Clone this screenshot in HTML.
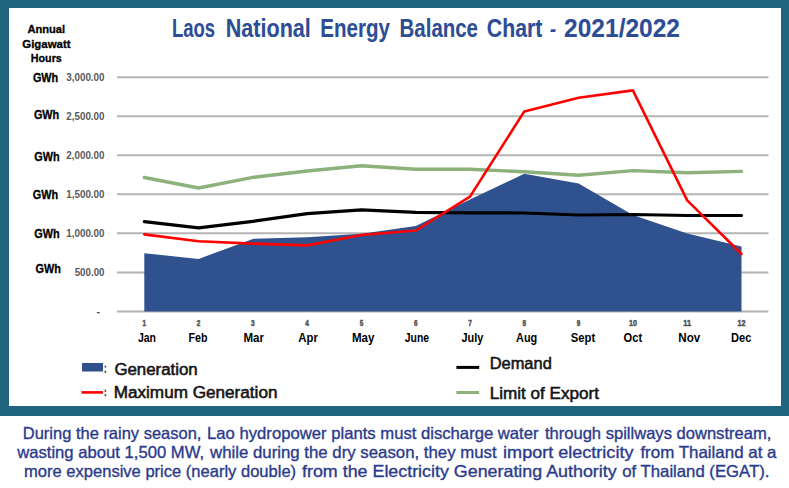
<!DOCTYPE html>
<html><head><meta charset="utf-8">
<style>
html,body{margin:0;padding:0;background:#fff;}
body{width:789px;height:488px;position:relative;overflow:hidden;font-family:"Liberation Sans",sans-serif;}
svg{position:absolute;left:0;top:0;font-family:"Liberation Sans",sans-serif;}
</style></head><body>
<svg width="789" height="488" viewBox="0 0 789 488">
<rect x="0" y="0" width="789" height="416" fill="#1e647c"/>
<rect x="9" y="8" width="772" height="398" fill="#fff"/>
<line x1="117" y1="77.2" x2="768.5" y2="77.2" stroke="#b4b4b4" stroke-width="2"/>
<line x1="117" y1="116.2" x2="768.5" y2="116.2" stroke="#b4b4b4" stroke-width="2"/>
<line x1="117" y1="155.3" x2="768.5" y2="155.3" stroke="#b4b4b4" stroke-width="2"/>
<line x1="117" y1="194.3" x2="768.5" y2="194.3" stroke="#b4b4b4" stroke-width="2"/>
<line x1="117" y1="233.3" x2="768.5" y2="233.3" stroke="#b4b4b4" stroke-width="2"/>
<line x1="117" y1="272.4" x2="768.5" y2="272.4" stroke="#b4b4b4" stroke-width="2"/>
<line x1="117" y1="311.4" x2="768.5" y2="311.4" stroke="#b4b4b4" stroke-width="2"/>
<polygon points="144.3,311.4 144.3,253.2 198.6,258.9 252.9,238.9 307.2,237.3 361.5,233.7 415.8,226.0 470.0,199.5 524.3,173.7 578.6,183.4 632.9,215.0 687.2,233.6 741.5,246.5 741.5,311.4" fill="#2f528f"/>
<polyline points="144.3,177.5 198.6,188.0 252.9,177.3 307.2,171.0 361.5,165.8 415.8,169.3 470.0,169.2 524.3,171.8 578.6,175.3 632.9,170.6 687.2,172.8 741.5,171.4" fill="none" stroke="#8cb17a" stroke-width="3.4" stroke-linejoin="round" stroke-linecap="round"/>
<polyline points="144.3,221.6 198.6,227.8 252.9,221.3 307.2,213.6 361.5,209.8 415.8,212.4 470.0,212.9 524.3,213.0 578.6,215.0 632.9,214.5 687.2,215.5 741.5,215.5" fill="none" stroke="#000" stroke-width="3.2" stroke-linejoin="round" stroke-linecap="round"/>
<polyline points="144.3,234.4 198.6,241.2 252.9,243.6 307.2,245.4 361.5,235.0 415.8,230.5 470.0,196.6 524.3,111.4 578.6,97.8 632.9,90.4 687.2,200.4 741.5,254.0" fill="none" stroke="#ff0000" stroke-width="2.6" stroke-linejoin="round" stroke-linecap="round"/>
<text x="172.00" y="37.20" textLength="43.07" lengthAdjust="spacingAndGlyphs" style="font-size:26px;font-weight:bold;fill:#2d4d95;stroke:#2d4d95;stroke-width:0.1px;">Laos</text>
<text x="225.80" y="37.20" textLength="85.00" lengthAdjust="spacingAndGlyphs" style="font-size:26px;font-weight:bold;fill:#2d4d95;stroke:#2d4d95;stroke-width:0.1px;">National</text>
<text x="320.20" y="37.20" textLength="69.70" lengthAdjust="spacingAndGlyphs" style="font-size:26px;font-weight:bold;fill:#2d4d95;stroke:#2d4d95;stroke-width:0.1px;">Energy</text>
<text x="399.60" y="37.20" textLength="78.40" lengthAdjust="spacingAndGlyphs" style="font-size:26px;font-weight:bold;fill:#2d4d95;stroke:#2d4d95;stroke-width:0.1px;">Balance</text>
<text x="486.80" y="37.20" textLength="55.53" lengthAdjust="spacingAndGlyphs" style="font-size:26px;font-weight:bold;fill:#2d4d95;stroke:#2d4d95;stroke-width:0.1px;">Chart</text>
<text x="564.10" y="37.20" textLength="115.92" lengthAdjust="spacingAndGlyphs" style="font-size:26px;font-weight:bold;fill:#2d4d95;stroke:#2d4d95;stroke-width:0.1px;">2021/2022</text>
<polygon points="551,29.2 555.8,29.2 555.2,31.9 550.3,31.9" fill="#2d4d95"/>
<text x="27.40" y="32.80" textLength="37.78" lengthAdjust="spacingAndGlyphs" style="font-size:11.5px;font-weight:bold;fill:#000;stroke:#000;stroke-width:0.3px;">Annual</text>
<text x="22.30" y="47.70" textLength="48.23" lengthAdjust="spacingAndGlyphs" style="font-size:11.5px;font-weight:bold;fill:#000;stroke:#000;stroke-width:0.3px;">Gigawatt</text>
<text x="30.80" y="61.80" textLength="30.99" lengthAdjust="spacingAndGlyphs" style="font-size:11.5px;font-weight:bold;fill:#000;stroke:#000;stroke-width:0.3px;">Hours</text>
<text x="32.90" y="81.80" textLength="25.33" lengthAdjust="spacingAndGlyphs" style="font-size:12px;font-weight:bold;fill:#000;stroke:#000;stroke-width:0.3px;">GWh</text>
<text x="33.90" y="119.10" textLength="25.33" lengthAdjust="spacingAndGlyphs" style="font-size:12px;font-weight:bold;fill:#000;stroke:#000;stroke-width:0.3px;">GWh</text>
<text x="34.20" y="160.60" textLength="25.33" lengthAdjust="spacingAndGlyphs" style="font-size:12px;font-weight:bold;fill:#000;stroke:#000;stroke-width:0.3px;">GWh</text>
<text x="32.70" y="199.30" textLength="25.33" lengthAdjust="spacingAndGlyphs" style="font-size:12px;font-weight:bold;fill:#000;stroke:#000;stroke-width:0.3px;">GWh</text>
<text x="34.20" y="238.30" textLength="25.33" lengthAdjust="spacingAndGlyphs" style="font-size:12px;font-weight:bold;fill:#000;stroke:#000;stroke-width:0.3px;">GWh</text>
<text x="35.60" y="273.30" textLength="25.33" lengthAdjust="spacingAndGlyphs" style="font-size:12px;font-weight:bold;fill:#000;stroke:#000;stroke-width:0.3px;">GWh</text>
<text x="66.30" y="81.00" textLength="38.22" lengthAdjust="spacingAndGlyphs" style="font-size:10.6px;font-weight:bold;fill:#595959;">3,000.00</text>
<text x="66.30" y="120.00" textLength="38.22" lengthAdjust="spacingAndGlyphs" style="font-size:10.6px;font-weight:bold;fill:#595959;">2,500.00</text>
<text x="66.30" y="159.10" textLength="38.22" lengthAdjust="spacingAndGlyphs" style="font-size:10.6px;font-weight:bold;fill:#595959;">2,000.00</text>
<text x="66.30" y="198.10" textLength="38.22" lengthAdjust="spacingAndGlyphs" style="font-size:10.6px;font-weight:bold;fill:#595959;">1,500.00</text>
<text x="66.30" y="237.10" textLength="38.22" lengthAdjust="spacingAndGlyphs" style="font-size:10.6px;font-weight:bold;fill:#595959;">1,000.00</text>
<text x="74.70" y="276.20" textLength="29.78" lengthAdjust="spacingAndGlyphs" style="font-size:10.6px;font-weight:bold;fill:#595959;">500.00</text>
<rect x="96.8" y="312" width="3" height="1.3" fill="#595959"/>
<text x="142.50" y="326.10" textLength="3.57" lengthAdjust="spacingAndGlyphs" style="font-size:8.7px;font-weight:bold;fill:#555;stroke:#555;stroke-width:0.5px;">1</text>
<text x="196.79" y="326.10" textLength="3.57" lengthAdjust="spacingAndGlyphs" style="font-size:8.7px;font-weight:bold;fill:#555;stroke:#555;stroke-width:0.5px;">2</text>
<text x="251.08" y="326.10" textLength="3.57" lengthAdjust="spacingAndGlyphs" style="font-size:8.7px;font-weight:bold;fill:#555;stroke:#555;stroke-width:0.5px;">3</text>
<text x="305.37" y="326.10" textLength="3.57" lengthAdjust="spacingAndGlyphs" style="font-size:8.7px;font-weight:bold;fill:#555;stroke:#555;stroke-width:0.5px;">4</text>
<text x="359.66" y="326.10" textLength="3.57" lengthAdjust="spacingAndGlyphs" style="font-size:8.7px;font-weight:bold;fill:#555;stroke:#555;stroke-width:0.5px;">5</text>
<text x="413.95" y="326.10" textLength="3.57" lengthAdjust="spacingAndGlyphs" style="font-size:8.7px;font-weight:bold;fill:#555;stroke:#555;stroke-width:0.5px;">6</text>
<text x="468.24" y="326.10" textLength="3.57" lengthAdjust="spacingAndGlyphs" style="font-size:8.7px;font-weight:bold;fill:#555;stroke:#555;stroke-width:0.5px;">7</text>
<text x="522.53" y="326.10" textLength="3.57" lengthAdjust="spacingAndGlyphs" style="font-size:8.7px;font-weight:bold;fill:#555;stroke:#555;stroke-width:0.5px;">8</text>
<text x="576.82" y="326.10" textLength="3.57" lengthAdjust="spacingAndGlyphs" style="font-size:8.7px;font-weight:bold;fill:#555;stroke:#555;stroke-width:0.5px;">9</text>
<text x="628.91" y="326.10" textLength="8.02" lengthAdjust="spacingAndGlyphs" style="font-size:8.7px;font-weight:bold;fill:#555;stroke:#555;stroke-width:0.5px;">10</text>
<text x="683.20" y="326.10" textLength="7.98" lengthAdjust="spacingAndGlyphs" style="font-size:8.7px;font-weight:bold;fill:#555;stroke:#555;stroke-width:0.5px;">11</text>
<text x="737.49" y="326.10" textLength="8.02" lengthAdjust="spacingAndGlyphs" style="font-size:8.7px;font-weight:bold;fill:#555;stroke:#555;stroke-width:0.5px;">12</text>
<text x="137.90" y="341.60" textLength="18.13" lengthAdjust="spacingAndGlyphs" style="font-size:12.5px;font-weight:bold;fill:#000;">Jan</text>
<text x="188.60" y="341.60" textLength="18.97" lengthAdjust="spacingAndGlyphs" style="font-size:12.5px;font-weight:bold;fill:#000;">Feb</text>
<text x="243.40" y="341.60" textLength="20.58" lengthAdjust="spacingAndGlyphs" style="font-size:12.5px;font-weight:bold;fill:#000;">Mar</text>
<text x="298.30" y="341.60" textLength="19.52" lengthAdjust="spacingAndGlyphs" style="font-size:12.5px;font-weight:bold;fill:#000;">Apr</text>
<text x="351.90" y="341.60" textLength="22.54" lengthAdjust="spacingAndGlyphs" style="font-size:12.5px;font-weight:bold;fill:#000;">May</text>
<text x="404.80" y="341.60" textLength="24.34" lengthAdjust="spacingAndGlyphs" style="font-size:12.5px;font-weight:bold;fill:#000;">June</text>
<text x="461.40" y="341.60" textLength="21.91" lengthAdjust="spacingAndGlyphs" style="font-size:12.5px;font-weight:bold;fill:#000;">July</text>
<text x="516.10" y="341.60" textLength="21.14" lengthAdjust="spacingAndGlyphs" style="font-size:12.5px;font-weight:bold;fill:#000;">Aug</text>
<text x="570.80" y="341.60" textLength="24.36" lengthAdjust="spacingAndGlyphs" style="font-size:12.5px;font-weight:bold;fill:#000;">Sept</text>
<text x="623.60" y="341.60" textLength="18.57" lengthAdjust="spacingAndGlyphs" style="font-size:12.5px;font-weight:bold;fill:#000;">Oct</text>
<text x="678.30" y="341.60" textLength="21.89" lengthAdjust="spacingAndGlyphs" style="font-size:12.5px;font-weight:bold;fill:#000;">Nov</text>
<text x="731.00" y="341.60" textLength="20.35" lengthAdjust="spacingAndGlyphs" style="font-size:12.5px;font-weight:bold;fill:#000;">Dec</text>
<rect x="82" y="363" width="21" height="8.5" fill="#2f528f"/>
<line x1="81.5" y1="392.4" x2="103" y2="392.4" stroke="#ff0000" stroke-width="2.6"/>
<line x1="456.4" y1="367.4" x2="479.2" y2="367.4" stroke="#000" stroke-width="3"/>
<line x1="456.4" y1="392.5" x2="479.2" y2="392.5" stroke="#8cb17a" stroke-width="3"/>
<rect x="104.5" y="365.4" width="1.8" height="2.4" rx="0.8" fill="#6b5040"/>
<rect x="104.5" y="370.6" width="1.8" height="2.4" rx="0.8" fill="#6b5040"/>
<rect x="104.5" y="389.6" width="1.8" height="2.4" rx="0.8" fill="#6b5040"/>
<rect x="104.5" y="394.0" width="1.8" height="2.4" rx="0.8" fill="#6b5040"/>
<text x="114.40" y="374.90" textLength="83.36" lengthAdjust="spacingAndGlyphs" style="font-size:16px;fill:#141414;stroke:#141414;stroke-width:0.55px;">Generation</text>
<text x="113.70" y="398.10" textLength="163.77" lengthAdjust="spacingAndGlyphs" style="font-size:16.3px;fill:#141414;stroke:#141414;stroke-width:0.55px;">Maximum Generation</text>
<text x="489.70" y="369.40" textLength="62.09" lengthAdjust="spacingAndGlyphs" style="font-size:17px;fill:#141414;stroke:#141414;stroke-width:0.55px;">Demand</text>
<text x="489.70" y="398.60" textLength="109.31" lengthAdjust="spacingAndGlyphs" style="font-size:17px;fill:#141414;stroke:#141414;stroke-width:0.55px;">Limit of Export</text>
<text x="22.80" y="438.60" textLength="178.58" lengthAdjust="spacingAndGlyphs" style="font-size:16.5px;fill:#2b3b8b;stroke:#2b3b8b;stroke-width:0.35px;">During the rainy season,</text>
<text x="207.10" y="438.60" textLength="331.47" lengthAdjust="spacingAndGlyphs" style="font-size:16.5px;fill:#2b3b8b;stroke:#2b3b8b;stroke-width:0.35px;">Lao hydropower plants must discharge water</text>
<text x="544.90" y="438.60" textLength="226.43" lengthAdjust="spacingAndGlyphs" style="font-size:16.5px;fill:#2b3b8b;stroke:#2b3b8b;stroke-width:0.35px;">through spillways downstream,</text>
<text x="17.17" y="457.60" textLength="187.00" lengthAdjust="spacingAndGlyphs" style="font-size:16.5px;fill:#2b3b8b;stroke:#2b3b8b;stroke-width:0.35px;">wasting about 1,500 MW,</text>
<text x="210.07" y="457.60" textLength="286.62" lengthAdjust="spacingAndGlyphs" style="font-size:16.5px;fill:#2b3b8b;stroke:#2b3b8b;stroke-width:0.35px;">while during the dry season, they must</text>
<text x="503.10" y="457.60" textLength="130.36" lengthAdjust="spacingAndGlyphs" style="font-size:16.5px;fill:#2b3b8b;stroke:#2b3b8b;stroke-width:0.35px;">import electricity</text>
<text x="640.40" y="457.60" textLength="136.11" lengthAdjust="spacingAndGlyphs" style="font-size:16.5px;fill:#2b3b8b;stroke:#2b3b8b;stroke-width:0.35px;">from Thailand at a</text>
<text x="24.10" y="476.60" textLength="272.02" lengthAdjust="spacingAndGlyphs" style="font-size:16.5px;fill:#2b3b8b;stroke:#2b3b8b;stroke-width:0.35px;">more expensive price (nearly double)</text>
<text x="302.00" y="476.60" textLength="314.66" lengthAdjust="spacingAndGlyphs" style="font-size:16.5px;fill:#2b3b8b;stroke:#2b3b8b;stroke-width:0.35px;">from the Electricity Generating Authority</text>
<text x="622.30" y="476.60" textLength="147.09" lengthAdjust="spacingAndGlyphs" style="font-size:16.5px;fill:#2b3b8b;stroke:#2b3b8b;stroke-width:0.35px;">of Thailand (EGAT).</text>
</svg>
</body></html>
